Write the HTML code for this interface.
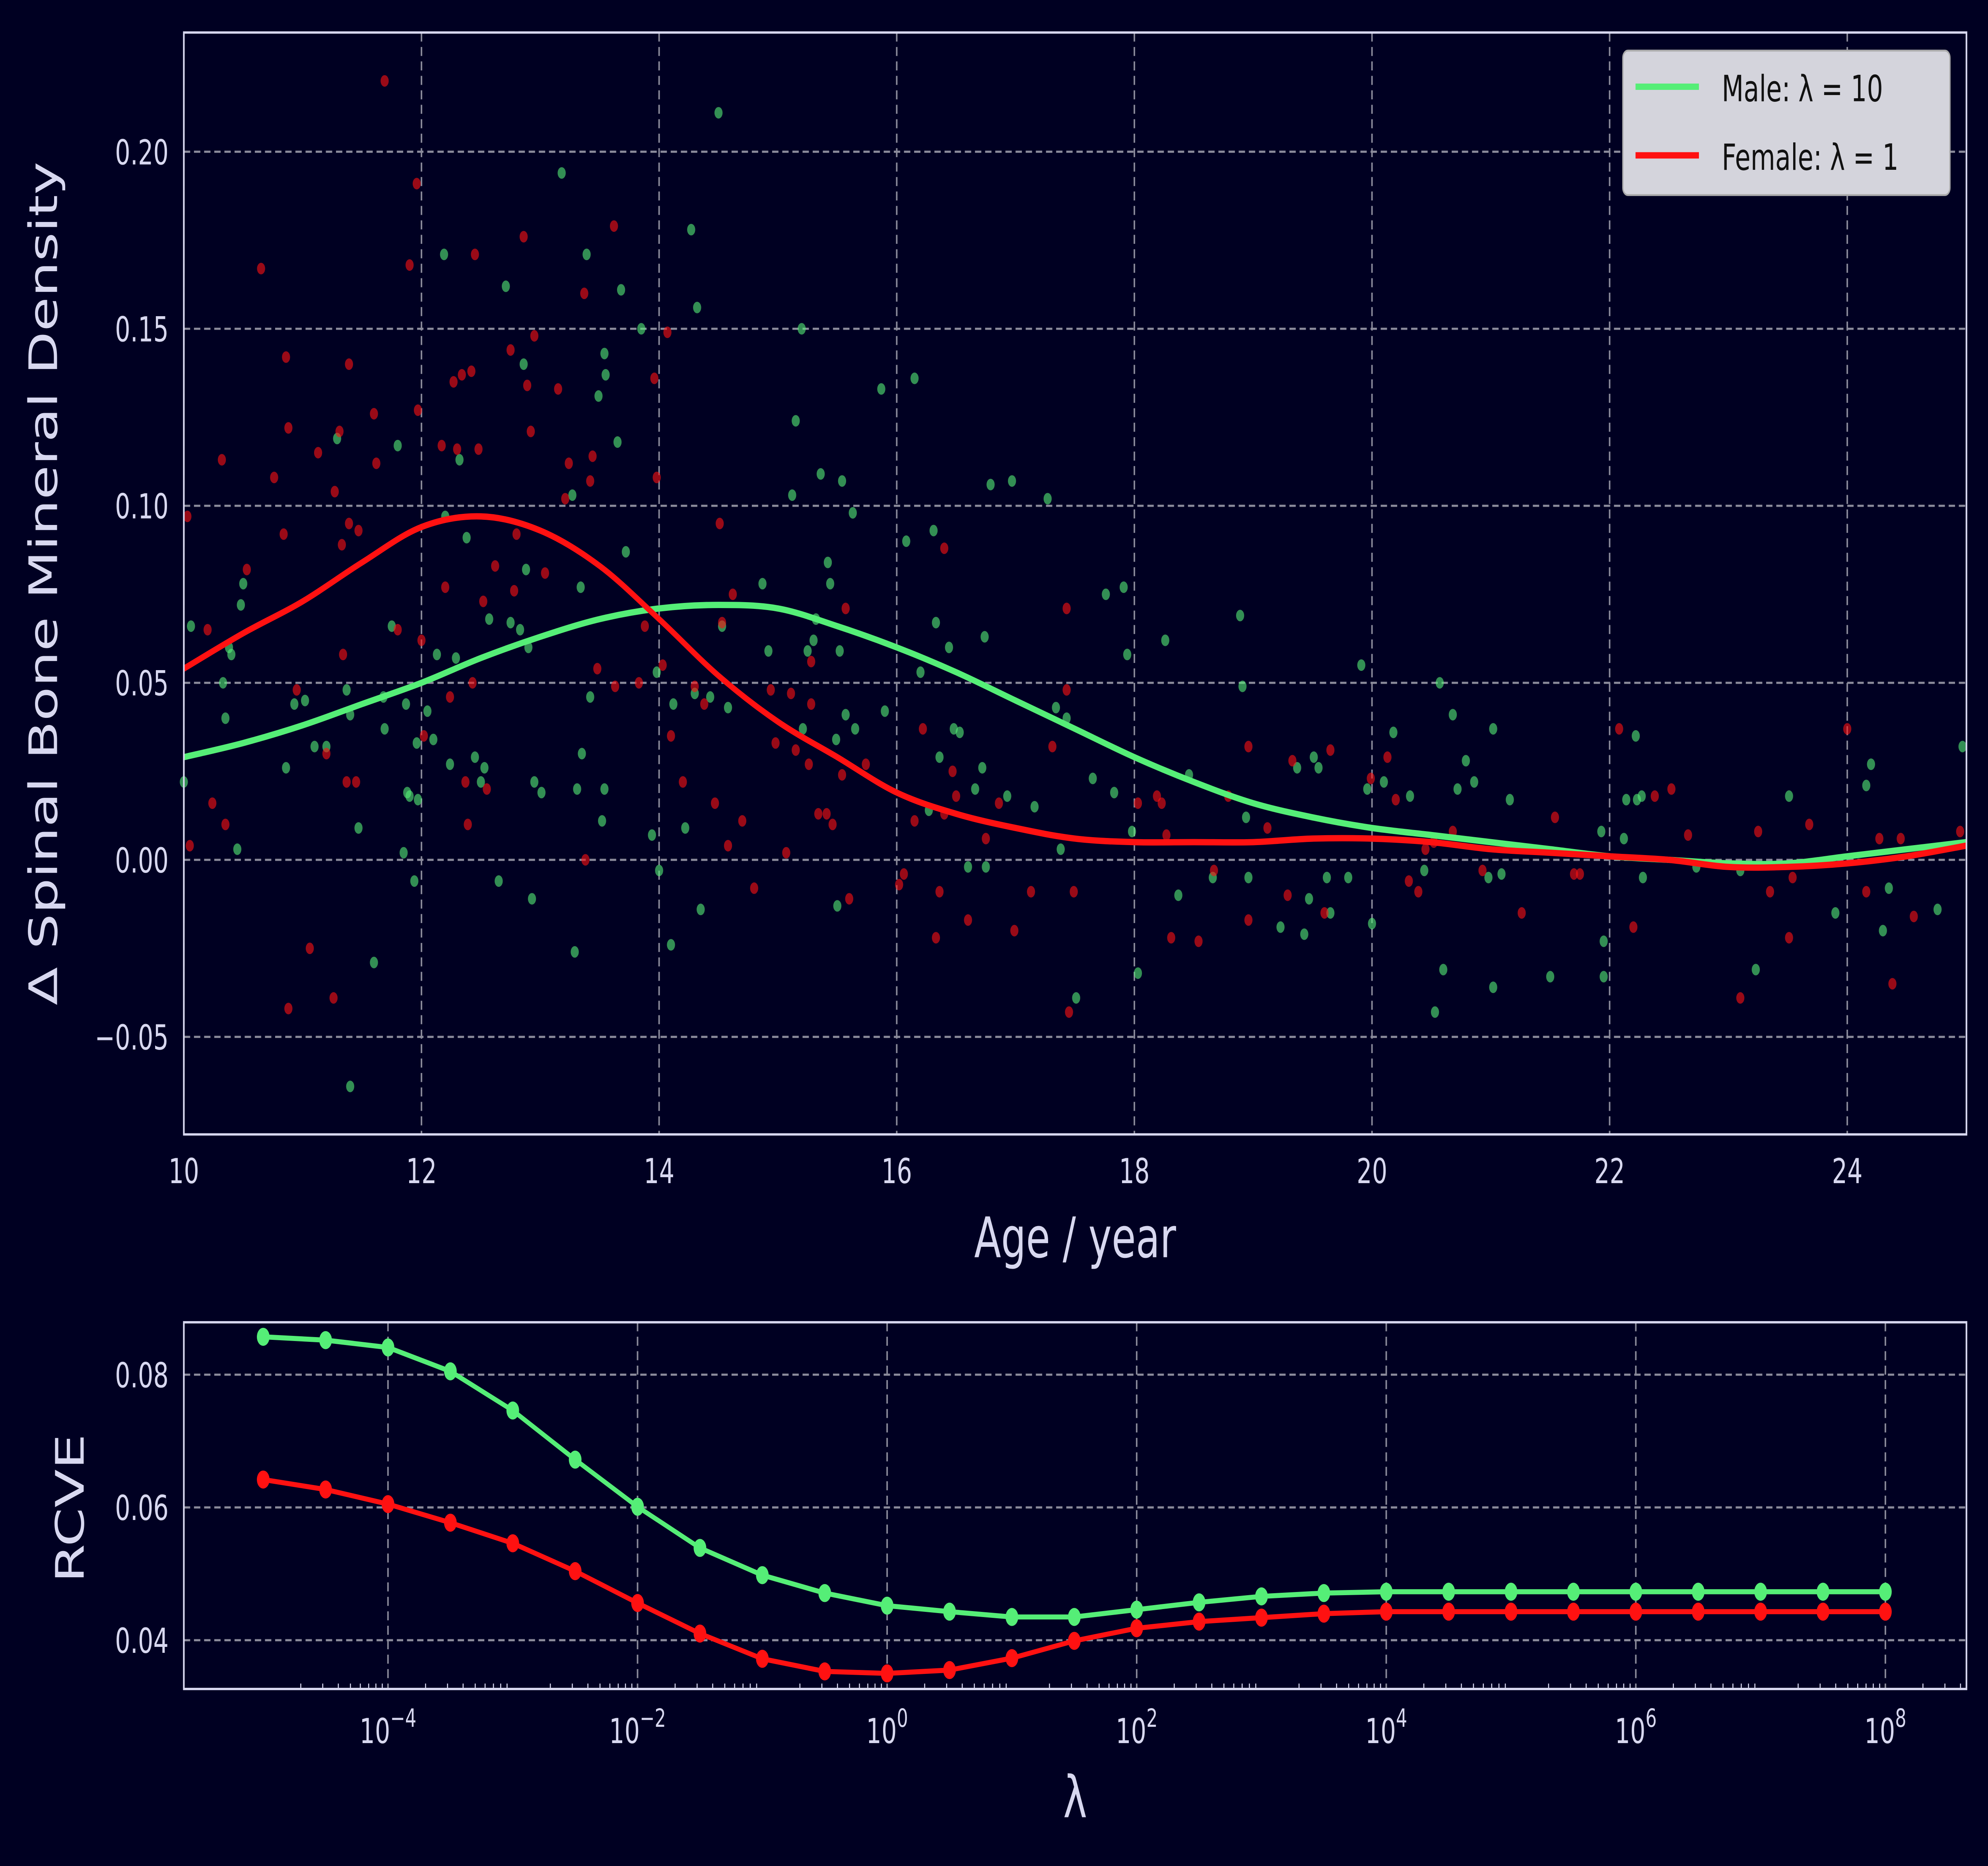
<!DOCTYPE html>
<html><head><meta charset="utf-8"><style>
html,body{margin:0;padding:0;background:#000022;width:100%;height:100%;overflow:hidden;}
svg{display:block;width:100vw;height:100vh;font-family:"DejaVu Sans","Liberation Sans",sans-serif;}
</style></head><body>
<svg id="fig" xmlns="http://www.w3.org/2000/svg" viewBox="0 0 1568 1033" preserveAspectRatio="none">
<rect x="0" y="0" width="1568" height="1033" fill="#000022"/>
<g id="topchart"></g>
<g id="botchart"></g>
</svg>
<script>
const maleAge=[10.0,10.06,10.33,10.35,10.38,10.4,10.45,10.5,10.48,10.86,10.93,11.02,11.1,11.2,11.29,11.37,11.4,11.4,11.47,11.6,11.68,11.69,11.75,11.8,11.85,11.87,11.88,11.9,11.94,11.96,11.97,12.05,12.1,12.13,12.19,12.2,12.24,12.29,12.32,12.38,12.45,12.5,12.53,12.57,12.65,12.71,12.75,12.83,12.86,12.88,12.9,12.93,12.95,13.01,13.18,13.27,13.29,13.31,13.34,13.35,13.39,13.42,13.49,13.52,13.54,13.54,13.55,13.65,13.68,13.72,13.85,13.94,13.98,14.0,14.1,14.12,14.22,14.27,14.3,14.32,14.35,14.43,14.5,14.53,14.58,14.87,14.92,15.12,15.15,15.2,15.21,15.25,15.3,15.32,15.36,15.42,15.44,15.49,15.5,15.52,15.54,15.57,15.63,15.65,15.87,15.9,16.08,16.15,16.2,16.27,16.31,16.33,16.36,16.44,16.48,16.53,16.6,16.66,16.72,16.74,16.75,16.79,16.93,16.97,17.16,17.27,17.34,17.38,17.43,17.51,17.65,17.76,17.83,17.91,17.94,17.98,18.03,18.26,18.37,18.46,18.66,18.89,18.91,18.94,18.96,19.23,19.37,19.43,19.47,19.51,19.55,19.62,19.65,19.8,19.91,19.96,20.0,20.1,20.18,20.32,20.44,20.53,20.57,20.6,20.68,20.72,20.79,20.86,20.98,21.02,21.02,21.09,21.16,21.5,21.93,21.95,21.95,22.12,22.14,22.22,22.23,22.27,22.28,22.73,23.1,23.23,23.51,23.9,24.16,24.2,24.3,24.35,24.76,24.97];
const maleVal=[0.022,0.066,0.05,0.040,0.060,0.058,0.003,0.078,0.072,0.026,0.044,0.045,0.032,0.032,0.119,0.048,0.041,-0.064,0.009,-0.029,0.046,0.037,0.066,0.117,0.002,0.044,0.019,0.018,-0.006,0.033,0.017,0.042,0.034,0.058,0.171,0.097,0.027,0.057,0.113,0.091,0.029,0.022,0.026,0.068,-0.006,0.162,0.067,0.065,0.140,0.082,0.060,-0.011,0.022,0.019,0.194,0.103,-0.026,0.020,0.077,0.030,0.171,0.046,0.131,0.011,0.020,0.143,0.137,0.118,0.161,0.087,0.150,0.007,0.053,-0.003,-0.024,0.044,0.009,0.178,0.047,0.156,-0.014,0.046,0.211,0.066,0.043,0.078,0.059,0.103,0.124,0.150,0.037,0.059,0.062,0.068,0.109,0.084,0.078,0.034,-0.013,0.059,0.107,0.041,0.098,0.037,0.133,0.042,0.090,0.136,0.053,0.014,0.093,0.067,0.029,0.060,0.037,0.036,-0.002,0.020,0.026,0.063,-0.002,0.106,0.018,0.107,0.015,0.102,0.043,0.003,0.040,-0.039,0.023,0.075,0.019,0.077,0.058,0.008,-0.032,0.062,-0.010,0.024,-0.005,0.069,0.049,0.012,-0.005,-0.019,0.026,-0.021,-0.011,0.029,0.026,-0.005,-0.015,-0.005,0.055,0.020,-0.018,0.022,0.036,0.018,-0.003,-0.043,0.050,-0.031,0.041,0.020,0.028,0.022,-0.005,0.037,-0.036,-0.004,0.017,-0.033,0.008,-0.023,-0.033,0.006,0.017,0.035,0.017,0.018,-0.005,-0.002,-0.003,-0.031,0.018,-0.015,0.021,0.027,-0.020,-0.008,-0.014,0.032];
const femAge=[10.03,10.05,10.2,10.24,10.32,10.35,10.53,10.65,10.76,10.84,10.86,10.88,10.88,10.95,11.06,11.13,11.2,11.26,11.27,11.31,11.33,11.34,11.37,11.39,11.39,11.45,11.47,11.6,11.62,11.69,11.8,11.9,11.96,11.97,12.0,12.02,12.17,12.2,12.24,12.27,12.3,12.34,12.37,12.39,12.42,12.43,12.45,12.48,12.52,12.55,12.62,12.75,12.78,12.8,12.86,12.89,12.92,12.95,13.04,13.15,13.21,13.24,13.37,13.38,13.42,13.44,13.48,13.62,13.63,13.83,13.88,13.96,13.98,14.03,14.07,14.1,14.2,14.3,14.38,14.47,14.51,14.53,14.58,14.62,14.7,14.8,14.94,14.98,15.07,15.11,15.15,15.26,15.28,15.28,15.34,15.41,15.46,15.54,15.57,15.6,15.74,16.02,16.06,16.15,16.22,16.33,16.36,16.4,16.4,16.47,16.5,16.6,16.75,16.86,16.99,17.13,17.31,17.43,17.45,17.49,17.43,18.03,18.19,18.23,18.27,18.31,18.54,18.67,18.79,18.96,18.96,19.12,19.29,19.33,19.6,19.65,19.99,20.13,20.2,20.31,20.39,20.45,20.52,20.68,20.93,21.26,21.54,21.7,21.75,22.08,22.2,22.38,22.52,22.66,23.1,23.25,23.35,23.51,23.54,23.68,24.0,24.16,24.27,24.38,24.45,24.56,24.95];
const femVal=[0.097,0.004,0.065,0.016,0.113,0.010,0.082,0.167,0.108,0.092,0.142,0.122,-0.042,0.048,-0.025,0.115,0.030,-0.039,0.104,0.121,0.089,0.058,0.022,0.140,0.095,0.022,0.093,0.126,0.112,0.220,0.065,0.168,0.191,0.127,0.062,0.035,0.117,0.077,0.046,0.135,0.116,0.137,0.022,0.010,0.138,0.050,0.171,0.116,0.073,0.020,0.083,0.144,0.076,0.092,0.176,0.134,0.121,0.148,0.081,0.133,0.102,0.112,0.160,0.0,0.107,0.114,0.054,0.179,0.049,0.050,0.066,0.136,0.108,0.055,0.149,0.035,0.022,0.049,0.044,0.016,0.095,0.067,0.004,0.075,0.011,-0.008,0.048,0.033,0.002,0.047,0.031,0.027,0.044,0.056,0.013,0.013,0.010,0.024,0.071,-0.011,0.027,-0.007,-0.004,0.011,0.037,-0.022,-0.009,0.088,0.013,0.025,0.018,-0.017,0.006,0.016,-0.020,-0.009,0.032,0.071,-0.043,-0.009,0.048,0.016,0.018,0.016,0.007,-0.022,-0.023,-0.003,0.018,-0.017,0.032,0.009,-0.010,0.028,-0.015,0.031,0.023,0.029,0.017,-0.006,-0.009,0.003,0.005,0.008,-0.003,-0.015,0.012,-0.004,-0.004,0.037,-0.019,0.018,0.020,0.007,-0.039,0.008,-0.009,-0.022,-0.005,0.010,0.037,-0.009,0.006,-0.035,0.006,-0.016,0.008];
const fitAge=[10,10.5,11,11.5,12,12.5,13,13.5,14,14.5,15,15.5,16,16.5,17,17.5,18,18.5,19,19.5,20,20.5,21,21.5,22,22.5,23,23.5,24,24.5,25];
const maleFit=[0.029,0.033,0.038,0.044,0.050,0.057,0.063,0.068,0.071,0.072,0.071,0.066,0.060,0.053,0.045,0.037,0.029,0.022,0.016,0.012,0.009,0.007,0.005,0.003,0.001,0.0,-0.001,-0.001,0.001,0.003,0.005];
const femFit=[0.054,0.064,0.073,0.084,0.094,0.097,0.093,0.083,0.068,0.052,0.039,0.029,0.019,0.013,0.009,0.006,0.005,0.005,0.005,0.006,0.006,0.005,0.003,0.002,0.001,0.0,-0.002,-0.002,-0.001,0.001,0.004];
const ageTicks=[10,12,14,16,18,20,22,24];
const bmdTicks=[-0.05,0.00,0.05,0.10,0.15,0.20];
const bmdTickLabels=["\u22120.05","0.00","0.05","0.10","0.15","0.20"];
const lamExp=[-5,-4.5,-4,-3.5,-3,-2.5,-2,-1.5,-1,-0.5,0,0.5,1,1.5,2,2.5,3,3.5,4,4.5,5,5.5,6,6.5,7,7.5,8];
const rcveMale=[0.0857,0.0852,0.0841,0.0805,0.0746,0.0672,0.0601,0.0539,0.0498,0.0471,0.0452,0.0443,0.0435,0.0435,0.0446,0.0457,0.0466,0.0471,0.0473,0.0473,0.0473,0.0473,0.0473,0.0473,0.0473,0.0473,0.0473];
const rcveFem=[0.0642,0.0627,0.0605,0.0577,0.0546,0.0504,0.0456,0.0410,0.0372,0.0353,0.0350,0.0355,0.0373,0.0399,0.0418,0.0428,0.0434,0.0440,0.0443,0.0443,0.0443,0.0443,0.0443,0.0443,0.0443,0.0443,0.0443];
const lamTickExp=[-4,-2,0,2,4,6,8];
const rcveTicks=[0.04,0.06,0.08];

const NS="http://www.w3.org/2000/svg";
const TXT="#d8d8f0",GREEN="#55ee77",RED="#ff1111",GRID="#8a8a9a";
function mk(p,tag,attrs){const e=document.createElementNS(NS,tag);for(const k in attrs)e.setAttribute(k,attrs[k]);p.appendChild(e);return e;}

const T={x0:145,x1:1551,y0:18,y1:628};
const xA=a=>145+(a-10)*93.714;
const yA=v=>476-v*1960;
const topG=document.getElementById('topchart');
ageTicks.forEach(t=>{
  const g=mk(topG,'line',{x1:xA(t),x2:xA(t),y1:T.y0,y2:T.y1,stroke:GRID,'stroke-width':1.2,'stroke-dasharray':'5,3'});
  
  
  const l=mk(topG,'text',{x:xA(t),y:655,fill:TXT,'font-size':19,'text-anchor':'middle'});
  l.textContent=t;
  
  
});
bmdTicks.forEach((t,i)=>{
  const g=mk(topG,'line',{x1:T.x0,x2:T.x1,y1:yA(t),y2:yA(t),stroke:GRID,'stroke-width':1.2,'stroke-dasharray':'5,3'});
  
  
  const l=mk(topG,'text',{x:133,y:yA(t)+7,fill:TXT,'font-size':19,'text-anchor':'end'});
  l.textContent=bmdTickLabels[i];
  
  
});
const mg=mk(topG,'g',{});


maleAge.forEach((a,i)=>{
  const c=mk(mg,'circle',{cx:xA(a),cy:yA(maleVal[i]),r:3.2,fill:GREEN,'fill-opacity':0.6});
  
  
});
const fg=mk(topG,'g',{});


femAge.forEach((a,i)=>{
  const c=mk(fg,'circle',{cx:xA(a),cy:yA(femVal[i]),r:3.2,fill:RED,'fill-opacity':0.6});
  
  
});
function smooth(xs,ys){let d='M'+xs[0]+','+ys[0];for(let i=0;i<xs.length-1;i++){const x0=xs[Math.max(i-1,0)],y0=ys[Math.max(i-1,0)],x1=xs[i],y1=ys[i],x2=xs[i+1],y2=ys[i+1],x3=xs[Math.min(i+2,xs.length-1)],y3=ys[Math.min(i+2,xs.length-1)];d+=' C'+(x1+(x2-x0)/6)+','+(y1+(y2-y0)/6)+' '+(x2-(x3-x1)/6)+','+(y2-(y3-y1)/6)+' '+x2+','+y2;}return d;}
const ml=mk(topG,'path',{d:smooth(fitAge.map(xA),maleFit.map(yA)),fill:'none',stroke:GREEN,'stroke-width':3.5});


const fl=mk(topG,'path',{d:smooth(fitAge.map(xA),femFit.map(yA)),fill:'none',stroke:RED,'stroke-width':3.5});


const tf=mk(topG,'rect',{x:T.x0,y:T.y0,width:T.x1-T.x0,height:T.y1-T.y0,fill:'none',stroke:TXT,'stroke-width':1.3});


const xl=mk(topG,'text',{x:848,y:696,fill:TXT,'font-size':31,'text-anchor':'middle'});
xl.textContent='Age / year';


const yl=mk(topG,'text',{x:0,y:0,fill:TXT,'font-size':31,'text-anchor':'middle',transform:'translate(45,323) rotate(-90)'});
yl.textContent='\u0394 Spinal Bone Mineral Density';


const lg=mk(topG,'g',{});


mk(lg,'rect',{x:1280,y:28,width:258,height:80,rx:4,fill:'#d4d4dc',stroke:'#aaaaaa','stroke-width':1});
const le1=mk(lg,'line',{x1:1290,x2:1340,y1:48,y2:48,stroke:GREEN,'stroke-width':3.5});


const lt1=mk(lg,'text',{x:1358,y:56,fill:'#111','font-size':20});lt1.textContent='Male: \u03bb = 10';


const le2=mk(lg,'line',{x1:1290,x2:1340,y1:86,y2:86,stroke:RED,'stroke-width':3.5});


const lt2=mk(lg,'text',{x:1358,y:94,fill:'#111','font-size':20});lt2.textContent='Female: \u03bb = 1';



const B={x0:145,x1:1551,y0:732,y1:935};
const xL=e=>699.7+e*98.42;
const yR=v=>761-(v-0.08)*3675;
const botG=document.getElementById('botchart');
lamTickExp.forEach(e=>{
  const g=mk(botG,'line',{x1:xL(e),x2:xL(e),y1:B.y0,y2:B.y1,stroke:GRID,'stroke-width':1.2,'stroke-dasharray':'5,3'});
  
  
  const l=mk(botG,'text',{x:xL(e),y:965,fill:TXT,'font-size':19,'text-anchor':'middle'});
  
  
  const a=mk(l,'tspan',{});a.textContent='10';
  const b=mk(l,'tspan',{'font-size':14,dy:-9});b.textContent=(e<0?'\u2212':'')+Math.abs(e);
});
for(let d=-5;d<=8;d++){for(let k=2;k<10;k++){const x=xL(d+Math.log10(k));if(x>B.x0&&x<B.x1){mk(botG,'line',{x1:x,x2:x,y1:B.y1,y2:B.y1-3,stroke:TXT,'stroke-width':0.8});}}}
rcveTicks.forEach(t=>{
  const g=mk(botG,'line',{x1:B.x0,x2:B.x1,y1:yR(t),y2:yR(t),stroke:GRID,'stroke-width':1.2,'stroke-dasharray':'5,3'});
  
  
  const l=mk(botG,'text',{x:133,y:yR(t)+7,fill:TXT,'font-size':19,'text-anchor':'end'});
  l.textContent=t.toFixed(2);
  
  
});
[[rcveMale,GREEN,'male'],[rcveFem,RED,'female']].forEach(([vals,col,nm])=>{
  const p=mk(botG,'polyline',{points:lamExp.map((e,i)=>xL(e)+','+yR(vals[i])).join(' '),fill:'none',stroke:col,'stroke-width':2.8});
  
  
  lamExp.forEach((e,i)=>{
    const c=mk(botG,'circle',{cx:xL(e),cy:yR(vals[i]),r:5,fill:col});
    
    
  });
});
const bf=mk(botG,'rect',{x:B.x0,y:B.y0,width:B.x1-B.x0,height:B.y1-B.y0,fill:'none',stroke:TXT,'stroke-width':1.3});


const bx=mk(botG,'text',{x:848,y:1006,fill:TXT,'font-size':32,'text-anchor':'middle'});
bx.textContent='\u03bb';


const by=mk(botG,'text',{x:0,y:0,fill:TXT,'font-size':31,'text-anchor':'middle',transform:'translate(66,835) rotate(-90)'});
by.textContent='RCVE';


</script>
</body></html>
